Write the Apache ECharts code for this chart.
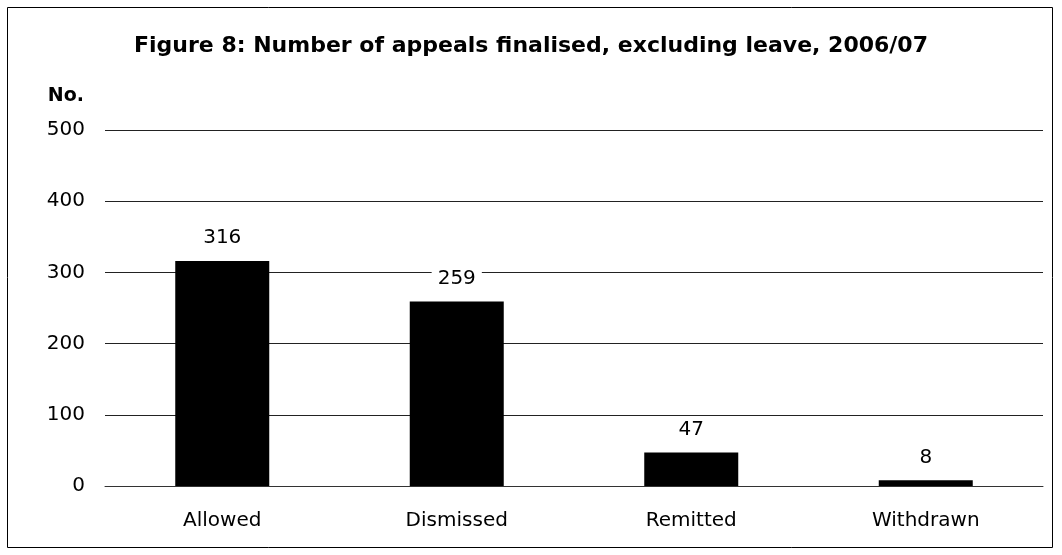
<!DOCTYPE html>
<html>
<head>
<meta charset="utf-8">
<script src="https://cdn.jsdelivr.net/npm/echarts@6/dist/echarts.min.js"></script>
<style>
html,body{margin:0;padding:0;background:#fff;}
#chart{width:1062px;height:555px;}
</style>
</head>
<body>
<div id="chart"></div>
<script>
const titleText = 'Figure 8: Number of appeals finalised, excluding leave, 2006/07';
const categories = ['Allowed', 'Dismissed', 'Remitted', 'Withdrawn'];
const appeals = [316, 259, 47, 8];
const yTicks = [0, 100, 200, 300, 400, 500];

const chart = echarts.init(document.getElementById('chart'), null, {renderer: 'canvas'});
const font = '"DejaVu Sans", "Liberation Sans", Arial, sans-serif';
chart.setOption({
  backgroundColor: '#fff',
  animation: false,
  textStyle: {fontFamily: font},
  graphic: [{
    type: 'rect',
    shape: {x: 7.5, y: 7.5, width: 1045, height: 540},
    style: {fill: 'none', stroke: '#000', lineWidth: 1}
  }],
  title: {
    text: titleText,
    left: 'center',
    top: 30,
    textStyle: {fontFamily: font, fontWeight: 'bold', fontSize: 22, color: '#000'}
  },
  grid: {left: 105, right: 19, top: 130, bottom: 69, containLabel: false},
  xAxis: {
    type: 'category',
    data: categories,
    axisLine: {show: true, lineStyle: {color: '#333', width: 1}},
    axisTick: {show: false},
    axisLabel: {color: '#000', fontSize: 20, fontFamily: font, margin: 25}
  },
  yAxis: {
    type: 'value',
    name: 'No.',
    nameLocation: 'end',
    nameGap: 24,
    nameTextStyle: {color: '#000', fontWeight: 'bold', fontSize: 19, fontFamily: font, align: 'right', padding: [0, 21, 0, 0]},
    min: yTicks[0],
    max: yTicks[yTicks.length - 1],
    interval: 100,
    axisLine: {show: false},
    axisTick: {show: false},
    axisLabel: {color: '#000', fontSize: 20, fontFamily: font, margin: 20},
    splitLine: {lineStyle: {color: '#222', width: 1}}
  },
  series: [{
    type: 'bar',
    data: appeals,
    barWidth: 94,
    itemStyle: {color: '#000'},
    label: {
      show: true,
      position: 'top',
      distance: 11,
      color: '#000',
      fontSize: 20,
      fontFamily: font,
      backgroundColor: '#fff',
      padding: [2, 6, 2, 6]
    }
  }]
});
</script>
</body>
</html>
